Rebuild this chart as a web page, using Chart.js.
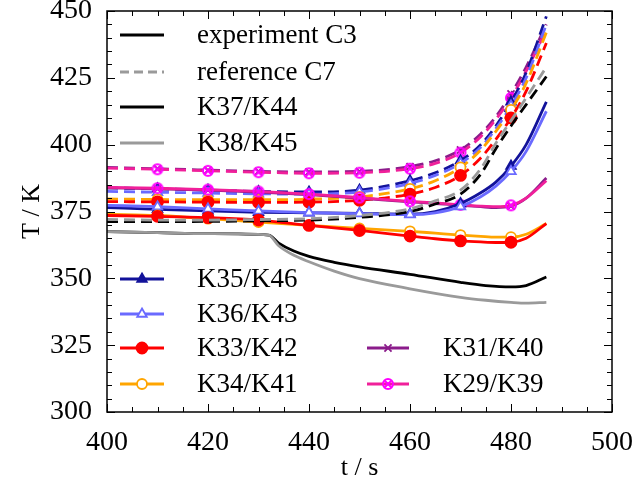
<!DOCTYPE html>
<html>
<head>
<meta charset="utf-8">
<script src="https://cdn.jsdelivr.net/npm/chart.js@4/dist/chart.umd.min.js"></script>
<style>
  html, body { margin: 0; padding: 0; background: #fff; }
  #wrap { width: 634px; height: 484px; }
</style>
</head>
<body>
<div id="wrap"><canvas id="chart"></canvas></div>
<script>
// time grids (s)
const expTime = [400, 410, 420, 432, 434, 437, 440, 445, 450, 460, 470, 475, 480, 483, 487]
const simTime = [400, 410, 420, 430, 440, 450, 460, 465, 470, 474, 477, 480, 483, 487]
const markerTimes = [410, 420, 430, 440, 450, 460, 470, 480]

// C3 side (solid) and C7 side (dashed) temperatures, K
const K37 = [367.5, 367.1, 366.7, 366.2, 363.2, 360.2, 358.2, 356.0, 354.3, 351.5, 348.5, 347.3, 346.8, 347.3, 350.5]
const K38 = [367.5, 367.1, 366.7, 366.2, 362.2, 358.6, 356.2, 352.7, 349.9, 346.1, 342.9, 341.8, 341.0, 340.7, 341.0]
const K44 = [371.2, 371.2, 371.3, 371.5, 371.8, 372.8, 375.0, 377.8, 381.5, 389.0, 398.5, 407.0, 415.0, 425.5]
const K45 = [372.0, 371.8, 371.8, 372.0, 372.3, 373.5, 376.0, 379.0, 383.0, 391.0, 400.5, 409.0, 417.5, 429.0]
const K35 = [376.5, 375.8, 375.2, 374.7, 374.5, 374.3, 374.0, 375.0, 378.0, 382.0, 386.0, 392.0, 400.0, 416.0]
const K46 = [383.8, 383.5, 383.0, 382.5, 382.3, 383.0, 386.5, 389.5, 394.0, 400.0, 407.0, 416.0, 427.0, 448.0]
const K36 = [377.3, 376.8, 376.0, 375.2, 374.6, 374.2, 373.8, 374.5, 376.8, 380.5, 384.5, 390.0, 397.5, 412.5]
const K43 = [382.5, 382.2, 381.9, 381.6, 381.5, 382.3, 385.5, 388.5, 393.0, 399.0, 406.0, 414.5, 425.0, 445.0]
const K33 = [373.5, 373.2, 372.7, 371.8, 369.8, 367.9, 365.8, 364.8, 364.0, 363.6, 363.4, 363.5, 365.0, 370.5]
const K42 = [378.7, 378.6, 378.5, 378.4, 378.5, 379.2, 381.5, 384.0, 388.5, 395.0, 402.0, 410.0, 420.0, 438.0]
const K34 = [374.0, 373.5, 372.3, 371.0, 369.8, 368.7, 367.6, 366.9, 366.2, 365.7, 365.4, 365.4, 366.5, 370.5]
const K41 = [379.7, 379.5, 379.4, 379.4, 379.6, 380.5, 383.5, 386.5, 391.5, 398.0, 405.0, 413.0, 423.0, 442.0]
const K31 = [383.8, 383.5, 383.0, 382.3, 381.3, 380.0, 378.6, 378.0, 377.3, 376.8, 376.5, 377.0, 380.0, 387.5]
const K40 = [391.5, 391.0, 390.5, 390.0, 389.8, 390.0, 391.8, 394.0, 398.0, 404.0, 410.5, 419.0, 429.0, 445.0]
const K29 = [384.0, 383.7, 383.2, 382.5, 381.5, 380.2, 378.8, 378.2, 377.5, 377.0, 376.8, 377.3, 380.0, 386.5]
const K39 = [391.2, 390.8, 390.2, 389.7, 389.3, 389.5, 391.0, 393.0, 397.0, 403.0, 409.5, 417.5, 427.5, 443.0]

const FONT = "'Liberation Serif', 'Times New Roman', serif"
const DASH = [11, 6]

function crossCircle(color) {
    const c = document.createElement('canvas')
    c.width = c.height = 14
    const g = c.getContext('2d')
    g.strokeStyle = color
    g.lineWidth = 2
    g.beginPath(); g.arc(7, 7, 5, 0, 2 * Math.PI); g.stroke()
    g.beginPath()
    g.moveTo(3.5, 3.5); g.lineTo(10.5, 10.5)
    g.moveTo(10.5, 3.5); g.lineTo(3.5, 10.5)
    g.stroke()
    return c
}

const st = {
    black:  { color: '#000000' },
    gray:   { color: '#9a9a9a' },
    navy:   { color: '#12129a', point: 'triangle', fill: '#12129a', r: 5.5 },
    light:  { color: '#6a6aff', point: 'triangle', fill: '#ffffff', r: 5.5 },
    red:    { color: '#ff0000', point: 'circle', fill: '#ff0000', r: 5.5 },
    orange: { color: '#ffa500', point: 'circle', fill: '#ffffff', r: 5 },
    purple: { color: '#8b1c8b', point: 'crossRot', fill: '#8b1c8b', r: 5 },
    pink:   { color: '#f0209a', point: crossCircle('#ff00ff'), fill: '#ff00ff', r: 6 },
}

function series(label, time, values, s, dashed) {
    return {
        label,
        data: time.map((t, i) => ({ x: t, y: values[i] })),
        borderColor: s.color,
        backgroundColor: s.fill || s.color,
        borderWidth: 2.8,
        borderDash: dashed ? DASH : [],
        cubicInterpolationMode: 'monotone',
        pointStyle: s.point || 'circle',
        pointBorderColor: typeof s.point === 'object' ? '#ff00ff' : s.color,
        pointBackgroundColor: s.fill || s.color,
        pointBorderWidth: 1.8,
        pointRadius: ctx => (s.point && markerTimes.includes(ctx.raw.x)) ? s.r : 0,
        pointHoverRadius: 0,
    }
}

const datasets = [
    series('K38', expTime, K38, st.gray, false),
    series('K37', expTime, K37, st.black, false),
    series('K45', simTime, K45, st.gray, true),
    series('K44', simTime, K44, st.black, true),
    series('K33', simTime, K33, st.red, false),
    series('K34', simTime, K34, st.orange, false),
    series('K36', simTime, K36, st.light, false),
    series('K35', simTime, K35, st.navy, false),
    series('K29', simTime, K29, st.pink, false),
    series('K31', simTime, K31, st.purple, false),
    series('K42', simTime, K42, st.red, true),
    series('K41', simTime, K41, st.orange, true),
    series('K43', simTime, K43, st.light, true),
    series('K46', simTime, K46, st.navy, true),
    series('K39', simTime, K39, st.pink, true),
    series('K40', simTime, K40, st.purple, true),
]

// legend entries: [label, style, dashed, column, row y]
const legendItems = [
    ['experiment C3', st.black, false, 0, 35],
    ['reference C7', st.gray, true, 0, 72],
    ['K37/K44', st.black, false, 0, 107],
    ['K38/K45', st.gray, false, 0, 143],
    ['K35/K46', st.navy, false, 0, 279],
    ['K36/K43', st.light, false, 0, 314],
    ['K33/K42', st.red, false, 0, 348],
    ['K34/K41', st.orange, false, 0, 384],
    ['K31/K40', st.purple, false, 1, 348],
    ['K29/K39', st.pink, false, 1, 384],
]
const legendCols = [[120, 164, 197], [367, 409, 443]]

const paperLegend = {
    id: 'paperLegend',
    afterDraw(chart) {
        const ctx = chart.ctx
        ctx.save()
        for (const [label, s, dashed, col, y] of legendItems) {
            const [x0, x1, tx] = legendCols[col]
            ctx.strokeStyle = s.color
            ctx.lineWidth = 3.2
            ctx.setLineDash(dashed ? [9, 5] : [])
            ctx.beginPath(); ctx.moveTo(x0, y); ctx.lineTo(x1, y); ctx.stroke()
            ctx.setLineDash([])
            if (s.point) {
                const cx = (x0 + x1) / 2
                if (typeof s.point !== 'string') {
                    ctx.drawImage(s.point, cx - 7, y - 7)
                } else {
                    ctx.fillStyle = s.fill
                    ctx.strokeStyle = s.color
                    ctx.lineWidth = 1.8
                    Chart.helpers.drawPoint(ctx, { pointStyle: s.point, radius: s.r, borderWidth: 1.8, rotation: 0 }, cx, y)
                }
            }
            ctx.fillStyle = '#000'
            ctx.font = '27px ' + FONT
            ctx.textBaseline = 'middle'
            ctx.fillText(label, tx, y + 1)
        }
        ctx.restore()
    }
}

// box frame with inward major and minor ticks
const frameTicks = {
    id: 'frameTicks',
    afterDraw(chart) {
        const { ctx, chartArea: a, scales: { x, y } } = chart
        ctx.save()
        ctx.strokeStyle = '#000'
        ctx.lineWidth = 1.5
        ctx.strokeRect(a.left, a.top, a.right - a.left, a.bottom - a.top)
        ctx.lineWidth = 1
        ctx.beginPath()
        for (let t = x.min; t <= x.max; t += 5) {
            const px = Math.round(x.getPixelForValue(t)) + 0.5
            const len = t % 20 === 0 ? 8 : 5
            ctx.moveTo(px, a.bottom); ctx.lineTo(px, a.bottom - len)
            ctx.moveTo(px, a.top); ctx.lineTo(px, a.top + len)
        }
        for (let v = y.min; v <= y.max; v += 5) {
            const py = Math.round(y.getPixelForValue(v)) + 0.5
            const len = v % 25 === 0 ? 8 : 5
            ctx.moveTo(a.left, py); ctx.lineTo(a.left + len, py)
            ctx.moveTo(a.right, py); ctx.lineTo(a.right - len, py)
        }
        ctx.stroke()
        ctx.restore()
    }
}

new Chart(document.getElementById('chart'), {
    type: 'line',
    data: { datasets },
    plugins: [frameTicks, paperLegend],
    options: {
        responsive: true,
        maintainAspectRatio: false,
        animation: false,
        events: [],
        layout: { padding: { top: 11, right: 22, left: 0, bottom: 0 } },
        plugins: { legend: { display: false }, tooltip: { enabled: false } },
        scales: {
            x: {
                type: 'linear', min: 400, max: 500,
                afterFit: s => { s.height = 72; s.paddingLeft = 0; s.paddingRight = 0 },
                ticks: { stepSize: 20, color: '#000', padding: 6, font: { family: FONT, size: 28 } },
                grid: { display: false },
                border: { display: false },
                title: { display: true, text: 't / s', color: '#000', padding: { top: -4, bottom: 0 }, font: { family: FONT, size: 26 } },
            },
            y: {
                min: 300, max: 450,
                afterFit: s => { s.width = 107; s.paddingTop = 0; s.paddingBottom = 0 },
                ticks: { stepSize: 25, color: '#000', padding: 7, font: { family: FONT, size: 28 } },
                grid: { display: false },
                border: { display: false },
                title: { display: true, text: 'T / K', color: '#000', padding: { top: 17, bottom: 0 }, font: { family: FONT, size: 26 } },
            },
        },
    },
})
</script>
</body>
</html>
